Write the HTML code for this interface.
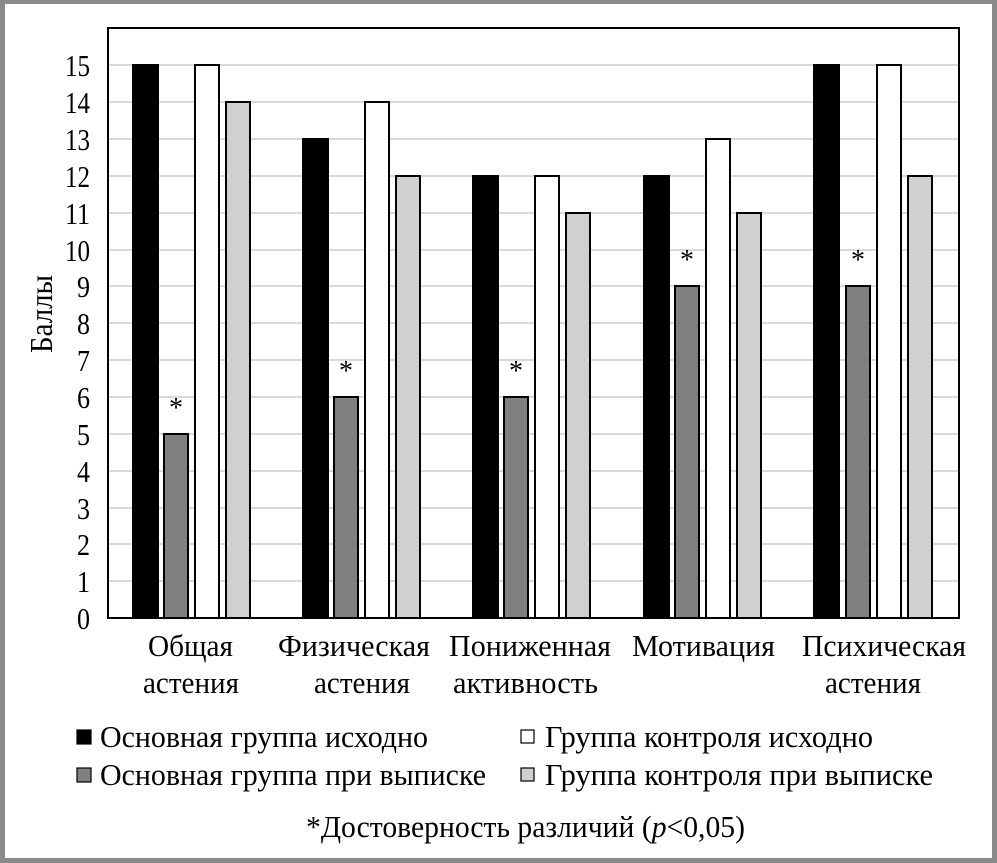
<!DOCTYPE html>
<html><head><meta charset="utf-8"><style>
html,body{margin:0;padding:0;background:#fff}
svg{display:block}
text{font-family:"Liberation Serif",serif;fill:#000}
</style></head><body>
<svg width="997" height="863" xmlns="http://www.w3.org/2000/svg">
<rect x="0" y="0" width="997" height="863" fill="#8a8a8a"/>
<rect x="5" y="4" width="987" height="854" fill="#fff"/>
<g stroke="#d9d9d9" stroke-width="2">
<line x1="108" x2="959" y1="65" y2="65"/><line x1="108" x2="959" y1="102" y2="102"/>
<line x1="108" x2="959" y1="139" y2="139"/><line x1="108" x2="959" y1="176" y2="176"/>
<line x1="108" x2="959" y1="213" y2="213"/><line x1="108" x2="959" y1="250" y2="250"/>
<line x1="108" x2="959" y1="286" y2="286"/><line x1="108" x2="959" y1="323" y2="323"/>
<line x1="108" x2="959" y1="360" y2="360"/><line x1="108" x2="959" y1="397" y2="397"/>
<line x1="108" x2="959" y1="434" y2="434"/><line x1="108" x2="959" y1="471" y2="471"/>
<line x1="108" x2="959" y1="508" y2="508"/><line x1="108" x2="959" y1="544" y2="544"/>
<line x1="108" x2="959" y1="581" y2="581"/>
</g>
<g stroke="#000" stroke-width="2">
<rect x="133" y="65" width="25" height="553" fill="#000"/>
<rect x="164" y="434" width="24" height="184" fill="#808080"/>
<rect x="195" y="65" width="24" height="553" fill="#fff"/>
<rect x="226" y="102" width="24" height="516" fill="#d0d0d0"/>
<rect x="303" y="139" width="25" height="479" fill="#000"/>
<rect x="334" y="397" width="24" height="221" fill="#808080"/>
<rect x="365" y="102" width="24" height="516" fill="#fff"/>
<rect x="396" y="176" width="24" height="442" fill="#d0d0d0"/>
<rect x="473" y="176" width="25" height="442" fill="#000"/>
<rect x="504" y="397" width="24" height="221" fill="#808080"/>
<rect x="535" y="176" width="24" height="442" fill="#fff"/>
<rect x="566" y="213" width="24" height="405" fill="#d0d0d0"/>
<rect x="644" y="176" width="25" height="442" fill="#000"/>
<rect x="675" y="286" width="24" height="332" fill="#808080"/>
<rect x="706" y="139" width="24" height="479" fill="#fff"/>
<rect x="737" y="213" width="24" height="405" fill="#d0d0d0"/>
<rect x="814" y="65" width="25" height="553" fill="#000"/>
<rect x="846" y="286" width="24" height="332" fill="#808080"/>
<rect x="877" y="65" width="24" height="553" fill="#fff"/>
<rect x="908" y="176" width="24" height="442" fill="#d0d0d0"/>
</g>
<rect x="108" y="28" width="851" height="590" fill="none" stroke="#000" stroke-width="2"/>
<g font-size="31" lengthAdjust="spacingAndGlyphs">
<text x="65" y="76" textLength="25" lengthAdjust="spacingAndGlyphs">15</text>
<text x="65" y="113" textLength="25" lengthAdjust="spacingAndGlyphs">14</text>
<text x="65" y="150" textLength="25" lengthAdjust="spacingAndGlyphs">13</text>
<text x="65" y="187" textLength="25" lengthAdjust="spacingAndGlyphs">12</text>
<text x="65" y="224" textLength="25" lengthAdjust="spacingAndGlyphs">11</text>
<text x="65" y="261" textLength="25" lengthAdjust="spacingAndGlyphs">10</text>
<text x="77" y="297" textLength="13" lengthAdjust="spacingAndGlyphs">9</text>
<text x="77" y="334" textLength="13" lengthAdjust="spacingAndGlyphs">8</text>
<text x="77" y="371" textLength="13" lengthAdjust="spacingAndGlyphs">7</text>
<text x="77" y="408" textLength="13" lengthAdjust="spacingAndGlyphs">6</text>
<text x="77" y="445" textLength="13" lengthAdjust="spacingAndGlyphs">5</text>
<text x="77" y="482" textLength="13" lengthAdjust="spacingAndGlyphs">4</text>
<text x="77" y="519" textLength="13" lengthAdjust="spacingAndGlyphs">3</text>
<text x="77" y="555" textLength="13" lengthAdjust="spacingAndGlyphs">2</text>
<text x="77" y="592" textLength="13" lengthAdjust="spacingAndGlyphs">1</text>
<text x="77" y="629" textLength="13" lengthAdjust="spacingAndGlyphs">0</text>
</g>
<text font-size="32" transform="translate(52,353) rotate(-90)" textLength="78" lengthAdjust="spacingAndGlyphs">Баллы</text>
<g font-size="28" text-anchor="middle">
<text x="176" y="417">*</text><text x="346" y="380">*</text><text x="516" y="380">*</text>
<text x="687" y="269">*</text><text x="858" y="269">*</text>
</g>
<g font-size="31">
<text x="148" y="656" textLength="85" lengthAdjust="spacingAndGlyphs">Общая</text>
<text x="143" y="693" textLength="96" lengthAdjust="spacingAndGlyphs">астения</text>
<text x="278" y="656" textLength="152" lengthAdjust="spacingAndGlyphs">Физическая</text>
<text x="314" y="693" textLength="96" lengthAdjust="spacingAndGlyphs">астения</text>
<text x="449" y="656" textLength="162" lengthAdjust="spacingAndGlyphs">Пониженная</text>
<text x="453" y="693" textLength="145" lengthAdjust="spacingAndGlyphs">активность</text>
<text x="632" y="656" textLength="143" lengthAdjust="spacingAndGlyphs">Мотивация</text>
<text x="802" y="656" textLength="164" lengthAdjust="spacingAndGlyphs">Психическая</text>
<text x="825" y="693" textLength="96" lengthAdjust="spacingAndGlyphs">астения</text>
</g>
<g stroke="#000" stroke-width="1.2">
<rect x="77" y="730" width="14" height="14" fill="#000"/>
<rect x="77" y="768" width="14" height="14" fill="#808080"/>
<rect x="521" y="730" width="13" height="13" fill="#fff"/>
<rect x="521" y="768" width="13" height="13" fill="#d0d0d0"/>
</g>
<g font-size="31">
<text x="100" y="747" textLength="328" lengthAdjust="spacingAndGlyphs">Основная группа исходно</text>
<text x="100" y="785" textLength="386" lengthAdjust="spacingAndGlyphs">Основная группа при выписке</text>
<text x="545" y="747" textLength="328" lengthAdjust="spacingAndGlyphs">Группа контроля исходно</text>
<text x="545" y="785" textLength="388" lengthAdjust="spacingAndGlyphs">Группа контроля при выписке</text>
<text x="306" y="837" textLength="439" lengthAdjust="spacingAndGlyphs">*Достоверность различий (<tspan font-style="italic">p</tspan>&lt;0,05)</text>
</g>
</svg>
</body></html>
